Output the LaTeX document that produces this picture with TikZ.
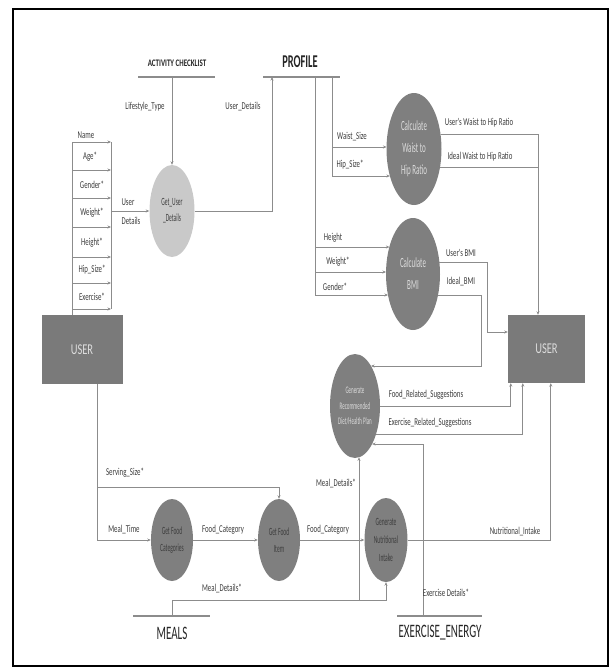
\documentclass[tikz,border=0pt]{standalone}
\usepackage{fontspec}
\setmainfont{Carlito}
\newfontfamily\lblfont[FakeStretch=0.65]{Carlito}
\newfontfamily\innerfont[FakeStretch=0.5]{Carlito}
\newfontfamily\userfont[FakeStretch=0.7]{Carlito}
\newfontfamily\headfont[FakeStretch=0.58]{Carlito}
\newfontfamily\actfont[FakeStretch=0.7]{Carlito}
\usetikzlibrary{shapes.geometric,arrows.meta,calc}
\definecolor{linec}{HTML}{8C8C8C}
\definecolor{txtc}{HTML}{3C3C3C}
\definecolor{ellc}{HTML}{7F7F7F}
\definecolor{lellc}{HTML}{C9C9C9}
\definecolor{boxc}{HTML}{7A7A7A}
\definecolor{intxt}{HTML}{DCDCDC}
\begin{document}
\begin{tikzpicture}[x=1pt,y=-1pt,
  ln/.style={draw=linec, line width=0.7pt},
  flw/.style={ln, -{Stealth[length=3.5pt,width=3pt]}},
  storeline/.style={draw=linec, line width=1.3pt},
  lab/.style={font=\lblfont\fontsize{10.5}{11}\selectfont, text=txtc, inner sep=0pt, align=center},
  proc/.style={ellipse, fill=ellc, inner sep=0pt, align=center, text=intxt},
  lproc/.style={ellipse, fill=lellc, inner sep=0pt, align=center, text=txtc},
  ubox/.style={rectangle, fill=boxc, inner sep=0pt, text=intxt, font=\userfont\fontsize{15}{16}\selectfont},
  headb/.style={font=\headfont\bfseries\fontsize{18}{19}\selectfont, text=black!85, inner sep=0pt},
  headm/.style={font=\headfont\fontsize{19}{20}\selectfont, text=black!85, inner sep=0pt}
]
\useasboundingbox (0,0) rectangle (615,669);
\draw[black, line width=1.5pt] (13,9) rectangle (608,666);

% ---------- stores ----------
\node[font=\actfont\bfseries\fontsize{10}{11}\selectfont, text=black!85, inner sep=0pt] (actT) at (177,63) {ACTIVITY CHECKLIST};
\draw[storeline] (138,77) -- (215,77);
\node[headb] (profT) at (300,62) {PROFILE};
\draw[storeline] (263,77) -- (340,77);
\node[headm] (mealT) at (172,633) {MEALS};
\draw[storeline] (133,616) -- (210,616);
\node[headm] (exT) at (440,633) {EXERCISE\_ENERGY};
\draw[storeline] (397,616) -- (482,616);

\coordinate (actv) at (172,77);
\coordinate (prA) at (272,77);
\coordinate (pv1) at (315,77);
\coordinate (pv2) at (332,77);
\coordinate (mealsC) at (172,616);
\coordinate (exC) at (423,616);

% ---------- entities ----------
\node[ubox, minimum width=81pt, minimum height=69pt] (userL) at (82,349.5) {USER};
\node[ubox, minimum width=77pt, minimum height=68pt] (userR) at (546.5,349) {USER};

% ---------- processes ----------
\node[lproc, minimum width=45pt, minimum height=92pt, font=\innerfont\fontsize{11}{16}\selectfont] (gud) at (172,211) {Get\_User\\\_Details};
\node[proc, minimum width=55pt, minimum height=112pt, font=\innerfont\fontsize{14}{22}\selectfont] (cwh) at (414,149) {Calculate\\Waist to\\Hip Ratio};
\node[proc, minimum width=54pt, minimum height=112pt, font=\innerfont\fontsize{14}{22}\selectfont] (bmi) at (413,274) {Calculate\\BMI};
\node[proc, minimum width=50pt, minimum height=104pt, font=\innerfont\fontsize{10}{15.5}\selectfont] (grec) at (355,406) {Generate\\Recommended\\Diet/Health Plan};
\node[proc, minimum width=43pt, minimum height=84pt, font=\innerfont\fontsize{11}{18}\selectfont, text=txtc] (gni) at (386,540) {Generate\\Nutritional\\Intake};
\node[proc, minimum width=42pt, minimum height=82pt, font=\innerfont\fontsize{11}{17}\selectfont, text=txtc] (gfc) at (172,540) {Get Food\\Categories};
\node[proc, minimum width=42pt, minimum height=82pt, font=\innerfont\fontsize{11}{17}\selectfont, text=txtc] (gfi) at (279,540) {Get Food\\Item};

% ---------- ladder of user inputs ----------
\foreach \yy [count=\i] in {142,170,198,227,257,283,309} {
  \coordinate (lL\i) at (72,\yy);
  \coordinate (lR\i) at (111,\yy);
  \draw[flw] (lL\i) -- (lR\i);
}
\draw[ln] (lL1) -- (lL1 |- userL.north);
\draw[ln] (lR1) -- (lR7);
\node[lab] (nName) at (86,135) {Name};
\node[lab] (nAge) at (90,157) {Age*};
\node[lab] (nGen) at (92,185) {Gender*};
\node[lab] (nWei) at (92,213) {Weight*};
\node[lab] (nHei) at (92,243) {Height*};
\node[lab] (nHip) at (92,270) {Hip\_Size*};
\node[lab] (nExe) at (92,297) {Exercise*};

\coordinate (udS) at (111,211);
\draw[flw] (udS) -- (gud.west);
\node[lab] (lUD1) at (128,202) {User};
\node[lab] (lUD2) at (131,221) {Details};

% ---------- activity / profile ----------
\draw[flw] (actv) -- (gud.north);
\node[lab] (lLife) at (145,107) {Lifestyle\_Type};
\draw[flw] (gud.east) -| (prA);
\node[lab] (lUDt) at (243,107) {User\_Details};

\coordinate (bmiH) at (315,247);
\coordinate (bmiW) at (315,272);
\coordinate (bmiG) at (315,295);
\draw[ln] (pv1) -- (bmiG);
\draw[flw] (bmiH) -- ($(bmi.center)+(-23.6,-27)$);
\draw[flw] (bmiW) -- ($(bmi.center)+(-27,-2)$);
\draw[flw] (bmiG) -- ($(bmi.center)+(-25,21)$);
\node[lab] (lH) at (333,238) {Height};
\node[lab] (lW) at (338,262) {Weight*};
\node[lab] (lG) at (335,287) {Gender*};

\coordinate (cwhW) at (332,147);
\coordinate (cwhH) at (332,176);
\draw[ln] (pv2) -- (cwhH);
\draw[flw] (cwhW) -- ($(cwh.center)+(-27.5,-2)$);
\draw[flw] (cwhH) -- ($(cwh.center)+(-24.1,27)$);
\node[lab] (lWS) at (352,137) {Waist\_Size};
\node[lab] (lHS) at (350,165) {Hip\_Size*};

% ---------- waist to hip outputs ----------
\coordinate (wj1) at (538,134);
\coordinate (wj2) at (538,167);
\draw[ln] ($(cwh.center)+(26.5,-15)$) -- (wj1);
\draw[ln] ($(cwh.center)+(26,18)$) -- (wj2);
\draw[flw] (wj1) -- (wj1 |- userR.north);
\node[lab] (lUW) at (479,123) {User's Waist to Hip Ratio};
\node[lab] (lIW) at (480,157) {Ideal Waist to Hip Ratio};

% ---------- BMI outputs ----------
\coordinate (bj1) at (487,262);
\coordinate (bj2) at (487,332);
\coordinate (bj3) at (481,295);
\coordinate (bj4) at (481,366);
\draw[flw] ($(bmi.center)+(26.4,-12)$) -- (bj1) -- (bj2) -- (bj2 -| userR.west);
\draw[flw] ($(bmi.center)+(25,21)$) -- (bj3) -- (bj4) -- ($(grec.center)+(16,-40)$);
\node[lab] (lUB) at (461,253) {User's BMI};
\node[lab] (lIB) at (461,282) {Ideal\_BMI};

% ---------- recommendation outputs ----------
\draw[flw] (grec.east) -| ([xshift=3pt]userR.south west);
\draw[flw] ($(grec.center)+(21.1,28)$) -| ([xshift=15pt]userR.south west);
\node[lab] (lFR) at (426,395) {Food\_Related\_Suggestions};
\node[lab] (lER) at (430,423) {Exercise\_Related\_Suggestions};

% ---------- nutritional ----------
\draw[flw] (gni.east) -| ([xshift=43pt]userR.south west);
\node[lab] (lNI) at (515,532) {Nutritional\_Intake};

% ---------- meals flow ----------
\coordinate (mt) at (97,384);
\coordinate (ssJ) at (97,487);
\draw[flw] (userL.south -| mt) |- (gfc.west);
\draw[flw] (ssJ) -| (gfi.north);
\node[lab] (lMT) at (124,530) {Meal\_Time};
\node[lab] (lSS) at (125,473) {Serving\_Size*};
\draw[flw] (gfc.east) -- (gfi.west);
\node[lab] (lFC1) at (223,530) {Food\_Category};
\draw[flw] (gfi.east) -- (gni.west);
\node[lab] (lFC2) at (328,530) {Food\_Category};

\coordinate (mdJ) at (359,600);
\draw[flw] (mealsC) |- ($(gni.south)+(0,18)$) -- (gni.south);
\draw[flw] (mdJ) -- ($(grec.center)+(4,51.3)$);
\node[lab] (lMD1) at (222,588) {Meal\_Details*};
\node[lab] (lMD2) at (336,483) {Meal\_Details*};

\draw[flw] (exC) |- ($(grec.center)+(17.1,38)$);
\node[lab] (lED) at (446,593) {Exercise Details*};
\end{tikzpicture}
\end{document}
